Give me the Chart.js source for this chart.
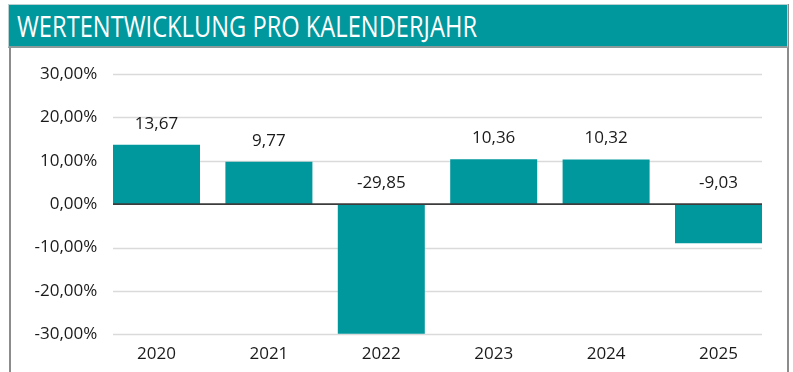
<!DOCTYPE html>
<html lang="de">
<head>
<meta charset="utf-8">
<script src="https://cdn.jsdelivr.net/npm/chart.js@4.4.1/dist/chart.umd.min.js"></script>
<style>
  html, body { margin: 0; padding: 0; background: #ffffff; }
  body { width: 793px; height: 372px; position: relative; overflow: hidden; font-family: "Open Sans", sans-serif; }
  .frame {
    position: absolute; left: 9px; top: 4px; width: 776px; height: 380px;
    border-left: 2px solid #8c8c8c; border-right: 2px solid #8c8c8c;
  }
  .header {
    position: absolute; left: 8px; top: 4px; width: 780px; height: 44px;
    background: #00979d; border: 1px solid #b9cfd0; box-sizing: border-box;
    border-bottom: 2px solid #8a9a9b;
  }
  .header span {
    position: absolute; left: 8px; top: 3px; color: #ffffff;
    font-family: "Open Sans", sans-serif; font-size: 30px; font-weight: 400;
    white-space: nowrap; transform-origin: 0 50%; line-height: 36px;
  }
  #chart { position: absolute; left: 11px; top: 50px; }
</style>
</head>
<body>
<div class="frame"></div>
<div class="header"><span id="title">WERTENTWICKLUNG PRO KALENDERJAHR</span></div>
<canvas id="chart" width="774" height="322"></canvas>
<script>
// Annual performance per calendar year (percent)
const years = ["2020", "2021", "2022", "2023", "2024", "2025"];
const returns = [13.67, 9.77, -29.85, 10.36, 10.32, -9.03];
const yTicks = [-30, -20, -10, 0, 10, 20, 30];

const TEAL = "#00979d";
const TEXT = "#1a1a1a";
const FONT = "'Open Sans', sans-serif";

// Fit the header text to its column width
(function fitTitle() {
  const t = document.getElementById("title");
  const w = t.getBoundingClientRect().width;
  t.style.transform = "scaleX(" + (460 / w) + ")";
})();

const deComma = v => v.toFixed(2).replace(".", ",");

// Horizontal grid spanning from the first bar's left edge to the last bar's right edge
const barGrid = {
  id: "barGrid",
  beforeDatasetsDraw(chart) {
    const bars = chart.getDatasetMeta(0).data;
    if (!bars.length) return;
    const x0 = bars[0].x - bars[0].width / 2;
    const x1 = bars[bars.length - 1].x + bars[bars.length - 1].width / 2;
    const y = chart.scales.y;
    const ctx = chart.ctx;
    ctx.save();
    ctx.strokeStyle = "#dadada";
    ctx.lineWidth = 1.6;
    yTicks.forEach(v => {
      if (v === 0) return;
      const py = Math.round(y.getPixelForValue(v)) + 0.5;
      ctx.beginPath(); ctx.moveTo(x0, py); ctx.lineTo(x1, py); ctx.stroke();
    });
    ctx.restore();
  },
  afterDatasetsDraw(chart) {
    const bars = chart.getDatasetMeta(0).data;
    const x0 = bars[0].x - bars[0].width / 2;
    const x1 = bars[bars.length - 1].x + bars[bars.length - 1].width / 2;
    const y = chart.scales.y;
    const ctx = chart.ctx;
    const zy = y.getPixelForValue(0);
    ctx.save();
    ctx.strokeStyle = "#3c3c3c";
    ctx.lineWidth = 1.6;
    ctx.beginPath(); ctx.moveTo(x0, zy); ctx.lineTo(x1, zy); ctx.stroke();

    // value labels: above the bar top, or above the zero line for losses
    ctx.fillStyle = TEXT;
    ctx.font = "17px " + FONT;
    ctx.textAlign = "center";
    ctx.textBaseline = "middle";
    bars.forEach((bar, i) => {
      const v = returns[i];
      const top = v >= 0 ? y.getPixelForValue(v) : zy;
      ctx.fillText(deComma(v), bar.x, top - 21);
    });
    ctx.restore();
  }
};

new Chart(document.getElementById("chart"), {
  type: "bar",
  data: {
    labels: years,
    datasets: [{
      data: returns,
      backgroundColor: TEAL,
      borderWidth: 0,
      barPercentage: 0.774,
      categoryPercentage: 1
    }]
  },
  options: {
    responsive: false,
    animation: false,
    events: [],
    layout: { padding: { top: 24, right: 10.3, bottom: 0, left: 0 } },
    plugins: { legend: { display: false }, tooltip: { enabled: false } },
    scales: {
      x: {
        grid: { display: false, drawTicks: false },
        border: { display: false },
        ticks: { color: TEXT, font: { family: FONT, size: 17 }, padding: 10, maxRotation: 0 },
        afterFit(scale) { scale.height = 37.7; }
      },
      y: {
        min: -30, max: 30,
        afterBuildTicks(scale) { scale.ticks = yTicks.map(v => ({ value: v })); },
        grid: { display: false, drawTicks: false },
        border: { display: false },
        ticks: {
          color: TEXT, font: { family: FONT, size: 17 }, padding: 3,
          callback: v => deComma(v) + "%"
        },
        afterFit(scale) { scale.width = 89.3; }
      }
    }
  },
  plugins: [barGrid]
});
</script>
</body>
</html>
